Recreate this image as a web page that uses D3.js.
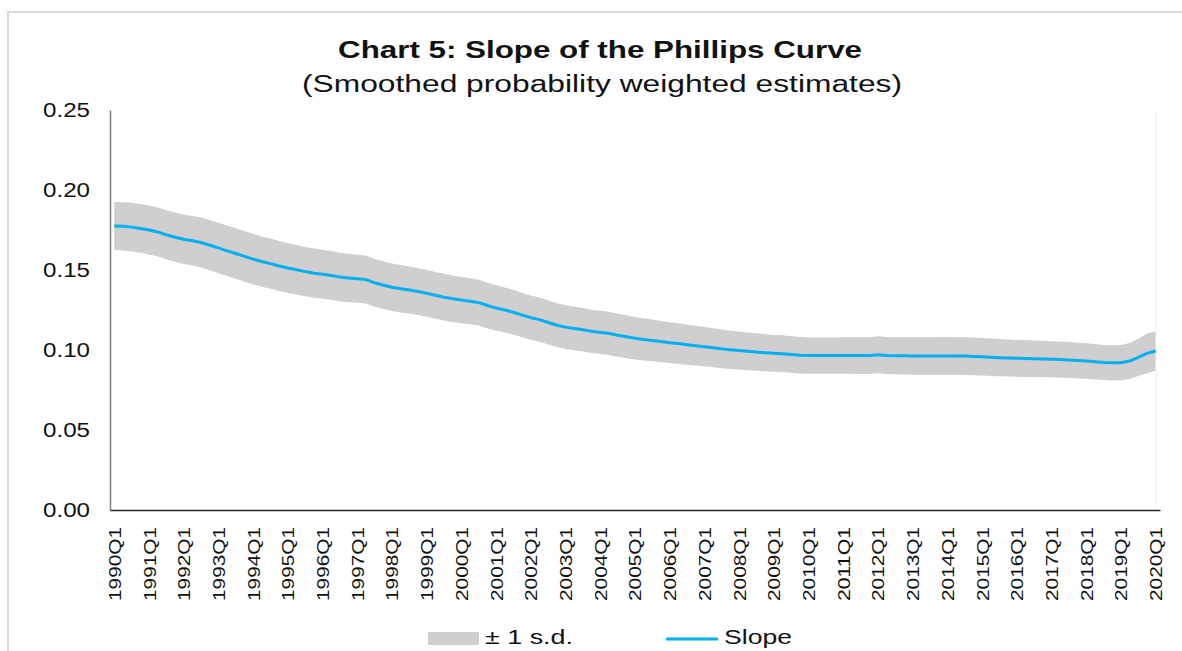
<!DOCTYPE html>
<html>
<head>
<meta charset="utf-8">
<script src="https://cdn.jsdelivr.net/npm/d3@7"></script>
<style>
    body { margin: 0; background: #fff; }
    text { font-family: "Liberation Sans", Arial, sans-serif; fill: #111; }
</style>
</head>
<body>
<div id="chart"></div>
<script>
// Anos e trimestres (1990Q1 a 2020Q1)
const years = d3.range(1990, 2021);
const quarters = [];
years.forEach(y => {
    ["Q1", "Q2", "Q3", "Q4"].forEach(q => {
        if (y < 2020 || q === "Q1") quarters.push(y + q);
    });
});

// Rótulos do eixo x (apenas os primeiros trimestres)
const tickLabels = years.map(y => y + "Q1");

// Inclinação estimada
const slope = [
    0.1775, 0.1773, 0.1768, 0.1760,
    0.1750, 0.1738, 0.1720, 0.1705,
    0.1692, 0.1683, 0.1672, 0.1655,
    0.1638, 0.1620, 0.1603, 0.1585,
    0.1568, 0.1553, 0.1540, 0.1525,
    0.1512, 0.1502, 0.1490, 0.1480,
    0.1474, 0.1466, 0.1456, 0.1450,
    0.1446, 0.1440, 0.1420, 0.1405,
    0.1392, 0.1383, 0.1375, 0.1365,
    0.1354, 0.1342, 0.1330, 0.1320,
    0.1312, 0.1305, 0.1296, 0.1278,
    0.1262, 0.1250, 0.1236, 0.1218,
    0.1202, 0.1190, 0.1172, 0.1155,
    0.1143, 0.1134, 0.1126, 0.1117,
    0.1110, 0.1104, 0.1092, 0.1083,
    0.1074, 0.1066, 0.1060, 0.1053,
    0.1046, 0.1040, 0.1033, 0.1027,
    0.1021, 0.1014, 0.1007, 0.1001,
    0.0997, 0.0992, 0.0987, 0.0983,
    0.0979, 0.0977, 0.0972, 0.0967,
    0.0965, 0.0965, 0.0965, 0.0965,
    0.0965, 0.0965, 0.0965, 0.0965,
    0.0970, 0.0966, 0.0964, 0.0964,
    0.0963, 0.0963, 0.0963, 0.0963,
    0.0963, 0.0963, 0.0962, 0.0960,
    0.0958, 0.0955, 0.0952, 0.0950,
    0.0948, 0.0947, 0.0946, 0.0944,
    0.0942, 0.0940, 0.0938, 0.0934,
    0.0931, 0.0926, 0.0922, 0.0920,
    0.0921, 0.0931, 0.0954, 0.0979,
    0.0994
];

// Desvio padrão (meia largura da faixa cinza)
const sd = [
    0.0150, 0.0151, 0.0152, 0.0152,
    0.0153, 0.0153, 0.0154, 0.0154,
    0.0155, 0.0155, 0.0156, 0.0157,
    0.0158, 0.0158, 0.0158, 0.0158,
    0.0158, 0.0157, 0.0157, 0.0156,
    0.0155, 0.0155, 0.0154, 0.0154,
    0.0153, 0.0152, 0.0152, 0.0151,
    0.0150, 0.0150, 0.0149, 0.0149,
    0.0148, 0.0148, 0.0147, 0.0147,
    0.0146, 0.0146, 0.0146, 0.0145,
    0.0145, 0.0144, 0.0143, 0.0143,
    0.0142, 0.0141, 0.0140, 0.0139,
    0.0138, 0.0138, 0.0137, 0.0137,
    0.0136, 0.0136, 0.0136, 0.0135,
    0.0135, 0.0135, 0.0134, 0.0134,
    0.0133, 0.0132, 0.0130, 0.0129,
    0.0128, 0.0127, 0.0125, 0.0124,
    0.0123, 0.0122, 0.0121, 0.0120,
    0.0119, 0.0118, 0.0117, 0.0116,
    0.0115, 0.0115, 0.0114, 0.0114,
    0.0113, 0.0113, 0.0113, 0.0113,
    0.0114, 0.0114, 0.0115, 0.0115,
    0.0116, 0.0116, 0.0116, 0.0117,
    0.0117, 0.0117, 0.0117, 0.0118,
    0.0118, 0.0118, 0.0118, 0.0118,
    0.0117, 0.0117, 0.0116, 0.0116,
    0.0115, 0.0115, 0.0114, 0.0114,
    0.0113, 0.0113, 0.0112, 0.0112,
    0.0111, 0.0111, 0.0110, 0.0110,
    0.0110, 0.0112, 0.0116, 0.0124,
    0.0122
];

// Marcas do eixo y
const yTicks = [0, 0.05, 0.10, 0.15, 0.20, 0.25];

const data = quarters.map((q, i) => ({ q: q, v: slope[i], s: sd[i] }));

const width = 1182;
const height = 651;
const margin = { top: 110, right: 22, bottom: 141, left: 110 };

const svg = d3.select("#chart")
    .append("svg")
    .attr("width", width)
    .attr("height", height);

// Moldura cinza clara
svg.append("rect")
    .attr("x", 8)
    .attr("y", 12)
    .attr("width", width + 20)
    .attr("height", height + 20)
    .attr("fill", "none")
    .attr("stroke", "#d9d9d9")
    .attr("stroke-width", 2);

const x = d3.scalePoint()
    .domain(quarters)
    .range([margin.left, width - margin.right])
    .padding(0.5);

const y = d3.scaleLinear()
    .domain([0, 0.25])
    .range([height - margin.bottom, margin.top]);

// Faixa de ± 1 desvio padrão
const area = d3.area()
    .x(d => x(d.q))
    .y0(d => y(d.v - d.s))
    .y1(d => y(d.v + d.s));

svg.append("path")
    .datum(data)
    .attr("fill", "#d0cece")
    .attr("d", area);

// Linha vertical clara no fim da área de plotagem
svg.append("line")
    .attr("x1", width - margin.right - 4)
    .attr("x2", width - margin.right - 4)
    .attr("y1", y(0.25))
    .attr("y2", y(0))
    .attr("stroke", "#f0f0f0");

// Linha da inclinação
const line = d3.line()
    .x(d => x(d.q))
    .y(d => y(d.v));

svg.append("path")
    .datum(data)
    .attr("fill", "none")
    .attr("stroke", "#00b0f0")
    .attr("stroke-width", 3)
    .attr("stroke-linejoin", "round")
    .attr("d", line);

// Eixo y
const yAxis = svg.append("g")
    .attr("transform", `translate(${margin.left},0)`)
    .call(d3.axisLeft(y).tickValues(yTicks).tickFormat(d3.format(".2f")).tickSize(0).tickPadding(20));
yAxis.select(".domain").attr("stroke", "#7f7f7f").attr("stroke-width", 1.5);
yAxis.selectAll("text")
    .style("font-size", "20px")
    .attr("fill", "#111")
    .attr("textLength", 47)
    .attr("lengthAdjust", "spacingAndGlyphs");

// Eixo x
const xAxis = svg.append("g")
    .attr("transform", `translate(0,${y(0)})`)
    .call(d3.axisBottom(x).tickValues(tickLabels).tickSize(0));
xAxis.select(".domain").attr("stroke", "#262626").attr("stroke-width", 1.5);
xAxis.selectAll("text")
    .attr("transform", "rotate(-90)")
    .attr("text-anchor", "end")
    .attr("x", -17)
    .attr("y", 0)
    .attr("dy", "0.35em")
    .style("font-size", "17px")
    .attr("fill", "#111")
    .attr("textLength", 74)
    .attr("lengthAdjust", "spacingAndGlyphs");

// Título e subtítulo
svg.append("text")
    .attr("x", 600)
    .attr("y", 58)
    .attr("text-anchor", "middle")
    .style("font-size", "24px")
    .style("font-weight", "bold")
    .attr("textLength", 524)
    .attr("lengthAdjust", "spacingAndGlyphs")
    .text("Chart 5: Slope of the Phillips Curve");

svg.append("text")
    .attr("x", 602)
    .attr("y", 92)
    .attr("text-anchor", "middle")
    .style("font-size", "23px")
    .attr("textLength", 600)
    .attr("lengthAdjust", "spacingAndGlyphs")
    .text("(Smoothed probability weighted estimates)");

// Legenda
const legend = svg.append("g");
legend.append("rect")
    .attr("x", 428)
    .attr("y", 632)
    .attr("width", 51)
    .attr("height", 13)
    .attr("fill", "#d0cece");
legend.append("text")
    .attr("x", 485)
    .attr("y", 644)
    .style("font-size", "20px")
    .attr("textLength", 88)
    .attr("lengthAdjust", "spacingAndGlyphs")
    .text("± 1 s.d.");
legend.append("line")
    .attr("x1", 666)
    .attr("x2", 718)
    .attr("y1", 639)
    .attr("y2", 639)
    .attr("stroke", "#00b0f0")
    .attr("stroke-width", 3);
legend.append("text")
    .attr("x", 724)
    .attr("y", 644)
    .style("font-size", "20px")
    .attr("textLength", 68)
    .attr("lengthAdjust", "spacingAndGlyphs")
    .text("Slope");
</script>
</body>
</html>
